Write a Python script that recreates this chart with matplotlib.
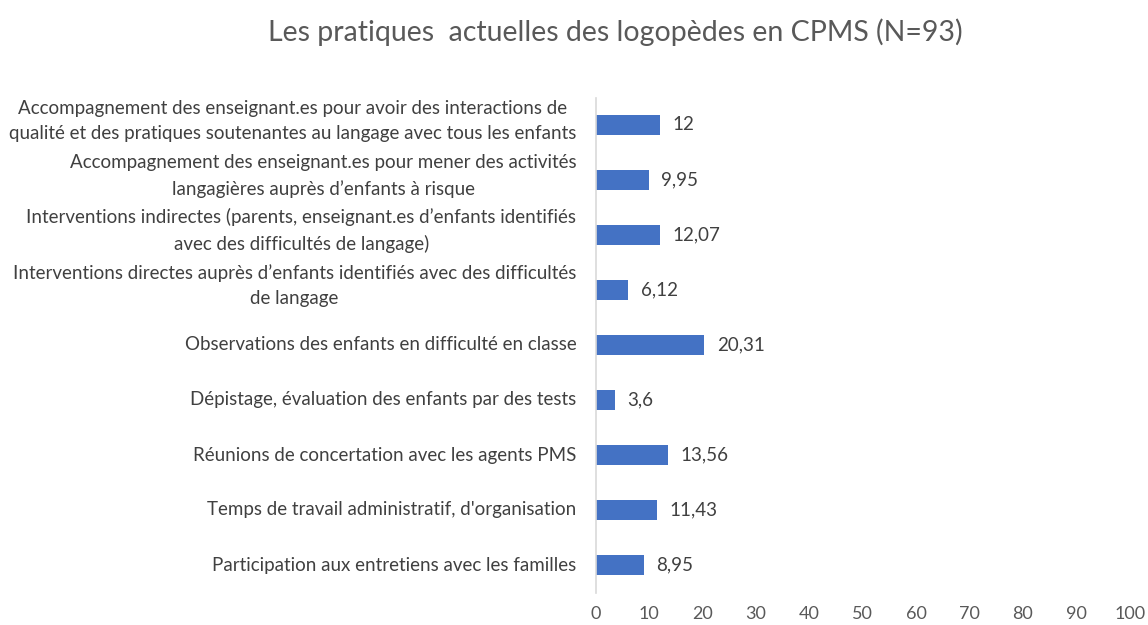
import matplotlib
matplotlib.use("Agg")
import matplotlib.pyplot as plt
from matplotlib.transforms import ScaledTranslation

categories = [
    "Accompagnement des enseignant.es pour avoir des interactions de\nqualité et des pratiques soutenantes au langage avec tous les enfants",
    "Accompagnement des enseignant.es pour mener des activités\nlangagières auprès d’enfants à risque",
    "Interventions indirectes (parents, enseignant.es d’enfants identifiés\navec des difficultés de langage)",
    "Interventions directes auprès d’enfants identifiés avec des difficultés\nde langage",
    "Observations des enfants en difficulté en classe",
    "Dépistage, évaluation des enfants par des tests",
    "Réunions de concertation avec les agents PMS",
    "Temps de travail administratif, d'organisation",
    "Participation aux entretiens avec les familles",
]
values = [12, 9.95, 12.07, 6.12, 20.31, 3.6, 13.56, 11.43, 8.95]
value_labels = ["12", "9,95", "12,07", "6,12", "20,31", "3,6", "13,56", "11,43", "8,95"]
xticks = list(range(0, 101, 10))
title = "Les pratiques  actuelles des logopèdes en CPMS (N=93)"

plt.rcParams['font.family'] = ['Lato', 'DejaVu Sans']
fig = plt.figure(figsize=(11.48, 6.25), dpi=100)
ax = fig.add_axes([0.519, 0.052, 0.465, 0.792])

ypos = list(range(len(categories)))[::-1]
ax.barh(ypos, values, height=0.36, color="#4472C4")
for y, v, lab in zip(ypos, values, value_labels):
    ax.annotate(lab, (v, y), xytext=(9, 0), textcoords="offset points",
                va="center", ha="left", fontsize=13.5, color="#404040")

ax.set_xlim(0, 100)
ax.set_ylim(-0.5, len(categories) - 0.5)
ax.set_xticks(xticks)
ax.set_xticklabels([str(t) for t in xticks], fontsize=13, color="#595959")
ax.set_yticks(ypos)
ax.set_yticklabels([])
ax.tick_params(axis="both", length=0)
ax.tick_params(axis="x", pad=10)

# category labels, right-aligned next to the axis
ytrans = ax.get_yaxis_transform()
for y, cat in zip(ypos, categories):
    shift = 3 if "\n" in cat else 0
    t = ytrans + ScaledTranslation(-14 / 72, shift / 72, fig.dpi_scale_trans)
    ax.text(0, y, cat, transform=t, ha="right", va="center",
            multialignment="center", linespacing=1.6,
            fontsize=13.5, color="#404040")

for s in ["top", "right", "bottom"]:
    ax.spines[s].set_visible(False)
ax.spines["left"].set_color("#D9D9D9")
ax.spines["left"].set_linewidth(1.2)

fig.text(0.536, 0.949, title, ha="center", va="center", fontsize=20.5, color="#595959")

fig.savefig("out.png", dpi=100)
